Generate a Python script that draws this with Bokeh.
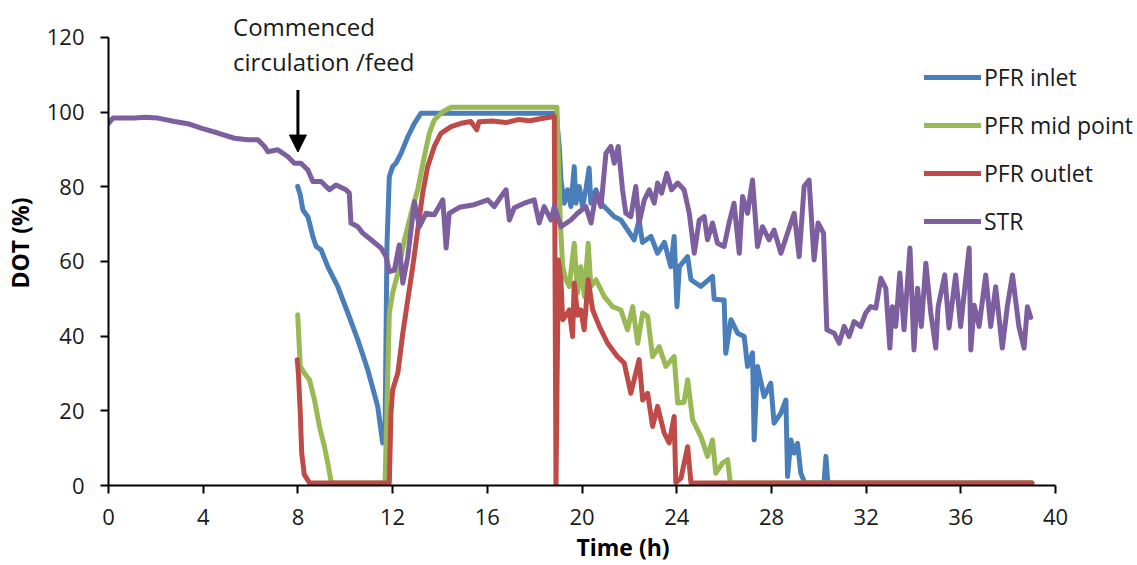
from bokeh.plotting import figure
from bokeh.models import Range1d, Legend, LegendItem, Label, Arrow, NormalHead, FixedTicker
from bokeh.embed import file_html
from bokeh.resources import INLINE

# ---------------- data ----------------
x_ticks = [0, 4, 8, 12, 16, 20, 24, 28, 32, 36, 40]
y_ticks = [0, 20, 40, 60, 80, 100, 120]

series_names = ["PFR inlet", "PFR mid point", "PFR outlet", "STR"]

inlet_t = [7.99, 8.10, 8.21, 8.42, 8.63, 8.77, 8.98, 9.26, 9.68, 10.11, 10.53, 10.95, 11.37, 11.58, 11.68,
           11.76, 11.86, 12.00, 12.14, 12.36, 12.64, 12.92, 13.20, 15.0, 17.0, 18.90,
           19.04, 19.11, 19.25, 19.39, 19.53, 19.67, 19.74, 19.88, 20.02, 20.16, 20.30, 20.37, 20.59, 20.80,
           21.08, 21.36, 21.64, 21.92, 22.20, 22.41, 22.55, 22.91, 23.19, 23.48, 23.75, 23.89, 24.01, 24.11,
           24.46, 24.60, 25.02, 25.51, 25.58, 26.00, 26.07, 26.29, 26.57, 26.85, 26.99, 27.20, 27.27, 27.41,
           27.69, 27.97, 28.11, 28.40, 28.61, 28.68, 28.82, 28.96, 29.10, 29.24, 29.38, 29.50, 30.22, 30.30,
           30.38, 31.5, 39.0]
inlet_dot = [80.1, 77.8, 73.8, 72.0, 66.7, 64.0, 63.1, 58.6, 53.3, 46.2, 39.0, 31.0, 21.2, 11.4, 14.0,
             64.0, 82.7, 85.4, 86.3, 89.0, 93.4, 97.0, 99.7, 99.7, 99.7, 99.7,
             90.8, 81.8, 75.6, 79.2, 74.7, 85.4, 75.6, 80.1, 74.7, 79.2, 85.0, 75.6, 79.2, 75.6,
             73.8, 72.0, 71.1, 68.5, 65.8, 71.1, 65.1, 66.7, 62.2, 65.1, 58.6, 66.7, 47.9, 58.6,
             61.3, 55.1, 53.3, 56.0, 49.9, 49.7, 35.4, 44.4, 40.8, 39.9, 31.9, 35.5, 12.2, 31.9,
             23.8, 27.4, 16.7, 19.4, 22.9, 2.4, 12.2, 8.7, 11.3, 3.3, 1.1, 0.7, 0.7, 7.8,
             0.7, 0.7, 0.7]

mid_t = [7.99, 8.10, 8.27, 8.49, 8.70, 8.91, 9.12, 9.26, 9.40, 9.47, 11.68,
         11.72, 11.79, 11.86, 12.00, 12.22, 12.50, 12.78, 13.06, 13.34, 13.55, 13.76, 14.12, 14.47, 16.5, 18.94,
         19.08, 19.18, 19.32, 19.46, 19.67, 19.81, 19.95, 20.10, 20.26, 20.37, 20.59, 20.94, 21.29, 21.64,
         21.92, 22.14, 22.35, 22.56, 22.77, 22.98, 23.26, 23.54, 23.89, 24.04, 24.31, 24.46, 24.67, 25.02,
         25.30, 25.51, 25.65, 25.93, 26.15, 26.26, 39.0]
mid_dot = [45.7, 31.9, 30.1, 28.3, 22.9, 15.8, 10.4, 6.0, 1.1, 0.7, 0.7,
           10.4, 28.3, 46.2, 51.5, 56.9, 65.8, 72.9, 79.2, 88.1, 94.3, 97.9, 100.1, 101.3, 101.3, 101.3,
           71.1, 58.6, 55.1, 53.3, 64.9, 51.5, 58.6, 50.6, 64.9, 53.3, 55.1, 50.6, 47.9, 47.0,
           41.7, 47.9, 38.1, 46.2, 45.3, 34.5, 37.2, 31.9, 34.5, 22.1, 22.3, 28.3, 17.6, 13.1,
           7.8, 12.2, 3.3, 6.0, 6.9, 0.7, 0.7]

outlet_t = [7.97, 8.02, 8.10, 8.16, 8.27, 8.49, 11.86,
            11.93, 12.00, 12.22, 12.43, 12.64, 12.85, 13.06, 13.27, 13.48, 13.76, 14.04, 14.47, 14.89,
            15.30, 15.55, 15.65, 16.20, 16.80, 17.30, 17.80, 18.30, 18.83, 18.90,
            19.00, 19.11, 19.18, 19.32, 19.46, 19.60, 19.67, 19.81, 19.95, 20.09, 20.26, 20.45, 20.73,
            21.08, 21.50, 21.78, 22.06, 22.27, 22.41, 22.56, 22.77, 22.98, 23.19, 23.47, 23.68, 23.89,
            23.96, 24.18, 24.46, 24.60, 39.0]
outlet_dot = [33.7, 30.1, 19.4, 8.7, 2.9, 0.7, 0.7,
              19.4, 25.6, 30.1, 40.8, 49.7, 58.6, 68.5, 78.3, 85.4, 90.8, 94.3, 96.1, 97.0,
              97.5, 95.3, 97.4, 97.6, 97.2, 98.0, 97.7, 98.3, 98.8, 0.0,
              60.4, 55.0, 44.4, 45.6, 47.0, 39.9, 54.2, 45.6, 47.0, 41.7, 55.1, 47.0, 42.6,
              38.1, 34.5, 32.8, 24.7, 30.1, 33.7, 22.9, 24.7, 15.8, 21.2, 14.0, 11.4, 18.5,
              0.8, 2.0, 10.4, 0.7, 0.7]

str_t = [0.0, 0.19, 1.10, 1.52, 2.09, 2.79, 3.35, 3.91, 4.62, 5.32, 5.88, 6.31, 6.59, 6.73, 7.15, 7.57,
         7.85, 8.13, 8.42, 8.63, 8.98, 9.33, 9.61, 10.03, 10.17, 10.24, 10.53, 10.74, 11.09, 11.51, 11.72,
         11.86, 12.07, 12.28, 12.43, 12.64, 12.92, 13.13, 13.41, 13.76, 14.12, 14.26, 14.39, 14.82,
         15.45, 16.02, 16.29, 16.58, 16.79, 16.93, 17.14, 17.56, 17.98, 18.19, 18.40, 18.69, 18.83,
         19.11, 19.53, 19.81, 20.16, 20.38, 20.59, 20.80, 21.01, 21.22, 21.36, 21.53, 21.71, 21.85,
         22.06, 22.27, 22.41, 22.63, 22.84, 23.05, 23.19, 23.36, 23.58, 23.78, 24.04, 24.31, 24.53,
         24.74, 24.95, 25.16, 25.30, 25.51, 25.72, 26.00, 26.21, 26.42, 26.64, 26.78, 26.99, 27.20,
         27.41, 27.62, 27.90, 28.11, 28.40, 28.68, 28.96, 29.17, 29.38, 29.59, 29.80, 29.97, 30.20,
         30.34, 30.65, 30.86, 31.07, 31.28, 31.49, 31.77, 31.98, 32.19, 32.41, 32.62, 32.83, 33.00,
         33.11, 33.25, 33.42, 33.60, 33.85, 34.02, 34.17, 34.33, 34.52, 34.73, 34.94, 35.04, 35.32,
         35.50, 35.78, 35.99, 36.35, 36.42, 36.56, 36.77, 37.05, 37.26, 37.47, 37.75, 37.96, 38.18,
         38.45, 38.67, 38.81, 38.95]
str_dot = [97.0, 98.4, 98.4, 98.6, 98.4, 97.5, 96.9, 95.7, 94.4, 93.0, 92.6, 92.6, 90.8, 89.4, 89.9, 88.1,
           86.3, 86.3, 84.5, 81.4, 81.4, 79.2, 80.5, 79.2, 78.3, 70.3, 69.3, 67.6, 65.8, 63.6, 61.3,
           57.3, 57.6, 64.4, 54.2, 61.3, 76.0, 69.3, 72.9, 72.5, 76.5, 63.6, 72.9, 74.5,
           75.2, 76.5, 74.7, 77.4, 79.2, 71.1, 74.4, 75.6, 76.5, 70.3, 74.7, 71.1, 74.7,
           69.3, 71.1, 72.9, 74.7, 70.3, 78.3, 74.7, 89.0, 90.8, 86.3, 90.8, 79.2, 72.9,
           72.0, 80.1, 70.3, 76.5, 79.2, 75.6, 81.0, 78.3, 83.6, 79.2, 81.0, 79.2, 72.9,
           62.2, 71.1, 72.0, 65.8, 70.3, 64.9, 64.0, 70.3, 75.6, 62.2, 77.4, 72.9, 81.8,
           64.0, 69.3, 65.8, 68.4, 62.2, 67.6, 72.9, 61.3, 80.1, 81.8, 60.4, 70.3, 67.6,
           41.7, 40.8, 38.1, 42.6, 39.9, 43.9, 42.6, 46.2, 47.9, 47.5, 55.5, 52.8, 36.8,
           47.9, 42.6, 56.9, 41.7, 63.6, 36.3, 52.8, 42.6, 59.5, 46.2, 36.8, 47.9, 56.4,
           42.2, 56.4, 42.6, 63.6, 36.3, 48.3, 42.6, 56.4, 42.6, 53.2, 36.8, 47.9, 56.4,
           42.6, 36.8, 47.9, 45.0]

colors = ["#4A7EBB", "#98B954", "#BE4B48", "#7D5FA0"]

# ---------------- figure ----------------
FONT = "Open Sans"
W, H = 1137, 565
LEFT, BOTTOM = 107, 79
# the axes stop at 40 h / 120 %, but the frame runs to the window's edge
# so that the legend and the note above the plot are not clipped
x_end = 40 * (W - LEFT) / 948.0
y_end = 120 * (H - BOTTOM) / 449.0

p = figure(width=W, height=H, output_backend="svg", toolbar_location=None,
           x_range=Range1d(0, x_end), y_range=Range1d(0, y_end),
           min_border_left=LEFT, min_border_right=0, min_border_top=0, min_border_bottom=BOTTOM)

p.xgrid.visible = False
p.ygrid.visible = False
p.outline_line_color = None
p.background_fill_color = "white"
p.border_fill_color = "white"

p.xaxis.ticker = FixedTicker(ticks=x_ticks)
p.yaxis.ticker = FixedTicker(ticks=y_ticks)
p.xaxis.bounds = (x_ticks[0], x_ticks[-1])
p.yaxis.bounds = (y_ticks[0], y_ticks[-1])

for ax in (p.xaxis[0], p.yaxis[0]):
    ax.axis_line_color = "black"
    ax.axis_line_width = 2
    ax.major_tick_line_color = "black"
    ax.major_tick_line_width = 2
    ax.major_tick_out = 8
    ax.major_tick_in = 0
    ax.minor_tick_out = 0
    ax.minor_tick_in = 0
    ax.major_label_text_font = FONT
    ax.major_label_text_font_size = "22px"
    ax.major_label_text_color = "#1a1a1a"
    ax.major_label_text_line_height = 1.0
    ax.axis_label_text_font = FONT
    ax.axis_label_text_font_size = "23px"
    ax.axis_label_text_font_style = "bold"
    ax.axis_label_text_color = "black"
    ax.axis_label_text_line_height = 1.0

p.xaxis.axis_label = "Time (h)"
p.yaxis.axis_label = "DOT (%)"
p.xaxis.major_label_standoff = 15
p.xaxis.axis_label_standoff = 3
p.yaxis.major_label_standoff = 16
p.yaxis.axis_label_standoff = 8

ts = [inlet_t, mid_t, outlet_t, str_t]
vs = [inlet_dot, mid_dot, outlet_dot, str_dot]
renderers = []
for t, v, c in zip(ts, vs, colors):
    r = p.line(t, v, line_color=c, line_width=5, line_join="round", line_cap="round")
    renderers.append(r)

legend = Legend(items=[LegendItem(label=n, renderers=[r]) for n, r in zip(series_names, renderers)],
                location=(816, 248), padding=0, margin=0, spacing=16,
                glyph_width=57, glyph_height=32, label_height=32, label_standoff=3,
                label_text_font=FONT, label_text_font_size="23px", label_text_color="#1a1a1a",
                background_fill_alpha=0, border_line_alpha=0)
p.add_layout(legend)

# annotation: arrow + text
p.add_layout(Arrow(end=NormalHead(size=17, fill_color="black", line_color="black"),
                   x_start=8.0, y_start=105.9, x_end=8.0, y_end=89.3,
                   line_color="black", line_width=3))
p.add_layout(Label(x=5.26, y=122.9, text="Commenced", text_font=FONT, text_font_size="24px",
                   text_color="#1a1a1a", text_baseline="middle"))
p.add_layout(Label(x=5.26, y=113.5, text="circulation /feed", text_font=FONT, text_font_size="24px",
                   text_color="#1a1a1a", text_baseline="middle"))

html = file_html(p, INLINE)
open("out.html", "w").write(html)
